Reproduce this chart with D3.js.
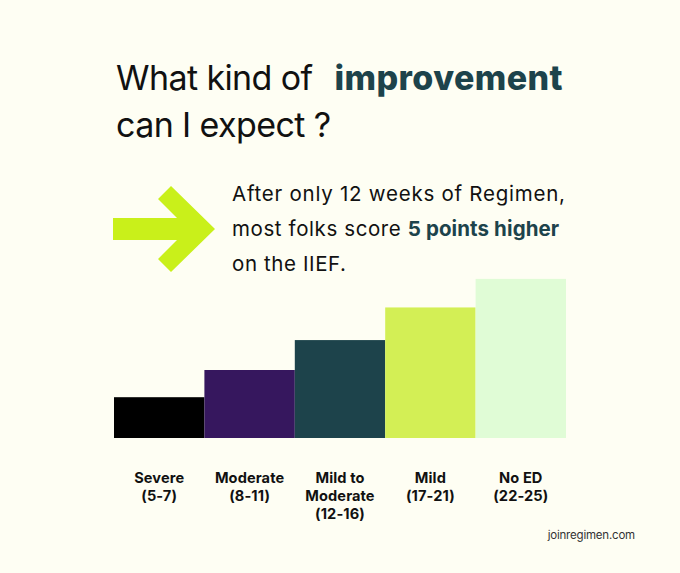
<!DOCTYPE html>
<html>
<head>
<meta charset="utf-8">
<script src="https://cdn.jsdelivr.net/npm/d3@7"></script>
<style>
  html, body { margin: 0; padding: 0; background: #fefef3; }
  svg { display: block; }
  text { font-family: Inter, "Noto Sans", sans-serif; }
</style>
</head>
<body>
<svg id="chart" width="680" height="573"></svg>
<script>
const categories = ["Severe", "Moderate", "Mild to Moderate", "Mild", "No ED"];
const labelLines = [
  ["Severe", "(5-7)"],
  ["Moderate", "(8-11)"],
  ["Mild to", "Moderate", "(12-16)"],
  ["Mild", "(17-21)"],
  ["No ED", "(22-25)"]
];
const scores = [6, 10, 14.4, 19.2, 23.4];
const barColors = ["#000000", "#36175e", "#1d434b", "#d3ef55", "#e0fcd6"];

const svg = d3.select("#chart");
svg.append("rect").attr("width", 680).attr("height", 573).attr("fill", "#fefef3");

// Title
const title = svg.append("text").attr("x", 116).attr("y", 90)
  .attr("font-size", 34).attr("fill", "#111");
title.append("tspan").attr("font-weight", 400).attr("letter-spacing", -0.6).text("What kind of");
title.append("tspan").attr("font-weight", 800).attr("fill", "#1d434b")
  .attr("letter-spacing", 0.4).attr("dx", 22).text("improvement");
svg.append("text").attr("x", 116).attr("y", 137)
  .attr("font-size", 34).attr("fill", "#111").attr("letter-spacing", -0.6)
  .text("can I expect ?");

// Arrow
svg.append("path")
  .attr("d", "M113,218 L177,218 L158,199 L171,186 L215,229 L171,272 L158,259 L177,240 L113,240 Z")
  .attr("fill", "#c9f01a");

// Subtitle
const sub = svg.append("g").attr("font-size", 20.5).attr("fill", "#111");
sub.append("text").attr("x", 232).attr("y", 201).attr("letter-spacing", 0.75).text("After only 12 weeks of Regimen,");
const l2 = sub.append("text").attr("x", 232).attr("y", 236).attr("letter-spacing", 0.6);
l2.append("tspan").text("most folks score ");
l2.append("tspan").attr("font-weight", 700).attr("fill", "#1d434b").attr("letter-spacing", 0.1).text("5 points higher");
sub.append("text").attr("x", 232).attr("y", 271).attr("letter-spacing", 0.6).text("on the IIEF.");

// Bars
const x = d3.scaleBand().domain(categories).range([114, 566]).padding(0);
const y = d3.scaleLinear().domain([0, 25]).range([438, 268]);

svg.append("g").selectAll("rect").data(categories).join("rect")
  .attr("x", d => x(d))
  .attr("width", x.bandwidth())
  .attr("y", (d, i) => y(scores[i]))
  .attr("height", (d, i) => y(0) - y(scores[i]))
  .attr("fill", (d, i) => barColors[i]);

// Category labels
const lab = svg.append("g").attr("font-size", 14.6).attr("font-weight", 700)
  .attr("fill", "#111").attr("text-anchor", "middle").attr("letter-spacing", 0.1);
categories.forEach((c, i) => {
  const t = lab.append("text").attr("x", x(c) + x.bandwidth() / 2).attr("y", 483);
  labelLines[i].forEach((line, j) => {
    t.append("tspan").attr("x", x(c) + x.bandwidth() / 2).attr("dy", j === 0 ? 0 : 18).text(line);
  });
});

// Footer
svg.append("text").attr("x", 635).attr("y", 539).attr("text-anchor", "end")
  .attr("font-size", 11.5).attr("fill", "#333").attr("letter-spacing", -0.2).text("joinregimen.com");
</script>
</body>
</html>
